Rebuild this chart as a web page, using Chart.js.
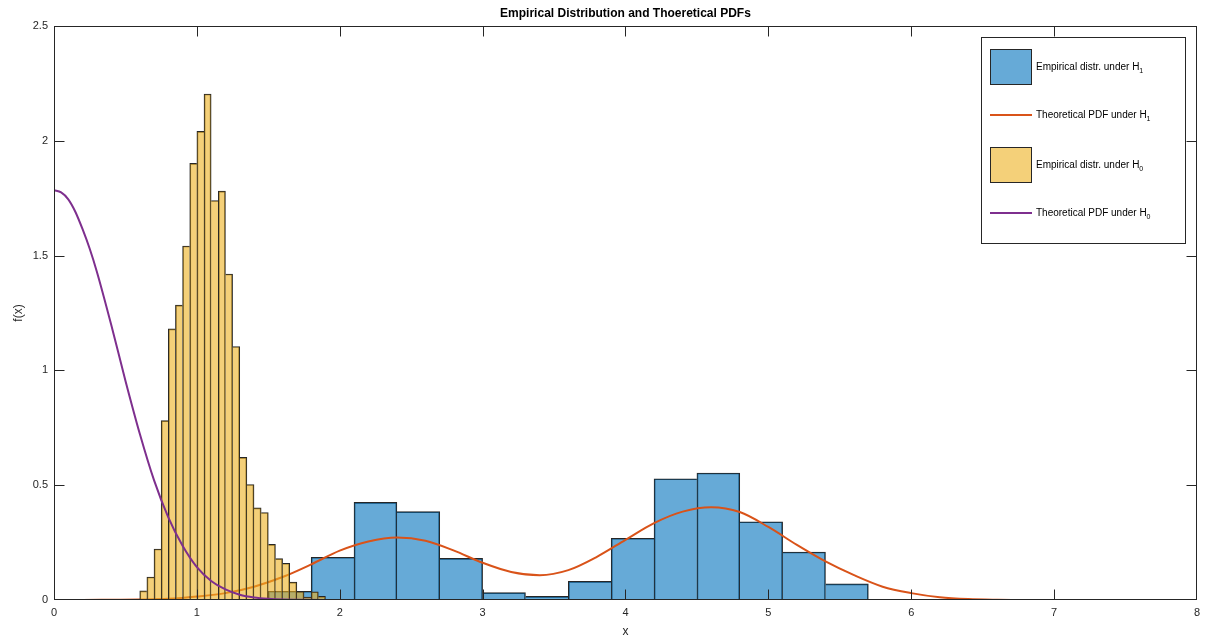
<!DOCTYPE html>
<html lang="en">
<head>
<meta charset="UTF-8">
<title>Empirical Distribution and Thoeretical PDFs</title>
<script src="https://cdn.jsdelivr.net/npm/chart.js"></script>
<style>
  html, body { margin: 0; padding: 0; background: #fff; }
  #wrap { width: 1206px; height: 642px; }
</style>
</head>
<body>
<div id="wrap"><canvas id="grafico" width="1206" height="642"></canvas></div>
<script>
// histogram under H1 (bin edges + density per bin)
const edgesH1 = [1.5, 1.8, 2.1, 2.4, 2.7, 3.0, 3.3, 3.6, 3.9, 4.2, 4.5, 4.8, 5.1, 5.4, 5.7];
const densH1  = [0.038, 0.186, 0.425, 0.385, 0.181, 0.032, 0.016, 0.081, 0.269, 0.528, 0.553, 0.341, 0.209, 0.070];

// histogram under H0
const edgesH0 = [0.6, 0.65, 0.7, 0.75, 0.8, 0.85, 0.9, 0.95, 1.0, 1.05, 1.1, 1.15, 1.2, 1.25,
                 1.3, 1.35, 1.4, 1.45, 1.5, 1.55, 1.6, 1.65, 1.7, 1.75, 1.8, 1.85, 1.9];
const densH0  = [0.04, 0.10, 0.222, 0.781, 1.181, 1.284, 1.542, 1.902, 2.041, 2.204, 1.740, 1.781, 1.420,
                 1.104, 0.621, 0.503, 0.401, 0.381, 0.242, 0.180, 0.160, 0.078, 0.037, 0.013, 0.036, 0.016];

// theoretical pdf under H1
const pdfH1x = [0, 0.2, 0.4, 0.6, 0.8, 1.0, 1.2, 1.4, 1.6, 1.8, 2.0, 2.2, 2.4, 2.6, 2.8, 3.0, 3.2, 3.4,
                3.6, 3.8, 4.0, 4.2, 4.4, 4.6, 4.8, 5.0, 5.2, 5.4, 5.6, 5.8, 6.0, 6.2, 6.4, 6.6, 6.76];
const pdfH1y = [0, 0, 0.001, 0.002, 0.005, 0.015, 0.03, 0.058, 0.10, 0.155, 0.215, 0.255, 0.272, 0.258,
                0.215, 0.162, 0.122, 0.108, 0.13, 0.188, 0.262, 0.335, 0.385, 0.404, 0.383, 0.318,
                0.24, 0.168, 0.108, 0.058, 0.03, 0.012, 0.004, 0.001, 0];

// theoretical pdf under H0
const pdfH0x = [0, 0.05, 0.1, 0.15, 0.2, 0.25, 0.3, 0.4, 0.5, 0.6, 0.7, 0.8, 0.9, 1.0, 1.1, 1.2, 1.3,
                1.4, 1.5, 1.6, 1.7, 1.9, 8];
const pdfH0y = [1.785, 1.775, 1.745, 1.69, 1.615, 1.53, 1.43, 1.2, 0.955, 0.725, 0.522, 0.36, 0.236,
                0.143, 0.083, 0.046, 0.023, 0.011, 0.005, 0.002, 0.001, 0, 0];

const xTicks = [0, 1, 2, 3, 4, 5, 6, 7, 8];
const yTicks = [0, 0.5, 1, 1.5, 2, 2.5];

const azul    = 'rgba(0, 114, 189, 0.6)';
const amarelo = 'rgba(237, 177, 32, 0.6)';
const laranja = 'rgb(217, 83, 25)';
const roxo    = 'rgb(126, 47, 142)';
const eixo    = '#262626';
const fonte   = '"Liberation Sans", Arial, Helvetica, sans-serif';

function histPoints(edges, vals) {
    return vals.map((v, i) => ({ x: (edges[i] + edges[i + 1]) / 2, y: v }));
}

// only the taller of two neighbouring bars draws the shared edge
function edgeWidths(vals) {
    return ctx => {
        const i = ctx.dataIndex, v = vals[i];
        const prev = i > 0 ? vals[i - 1] : -1;
        const next = i < vals.length - 1 ? vals[i + 1] : -1;
        return { top: 1, bottom: 0, left: prev <= v ? 1 : 0, right: next < v ? 1 : 0 };
    };
}

const curve = (xs, ys) => xs.map((x, i) => ({ x: x, y: ys[i] }));

const legendItems = [
    { kind: 'box',  color: azul,    text: 'Empirical distr. under H', sub: '1' },
    { kind: 'line', color: laranja, text: 'Theoretical PDF under H',  sub: '1' },
    { kind: 'box',  color: amarelo, text: 'Empirical distr. under H', sub: '0' },
    { kind: 'line', color: roxo,    text: 'Theoretical PDF under H',  sub: '0' }
];

const moldura = {
    id: 'moldura',
    afterDatasetsDraw(chart) {
        const { ctx, chartArea: a, scales } = chart;
        const L = Math.round(a.left) + 0.5, R = Math.round(a.right) - 0.5;
        const T = Math.round(a.top) + 0.5, B = Math.round(a.bottom) - 0.5;
        ctx.save();
        ctx.strokeStyle = eixo;
        ctx.lineWidth = 1;
        ctx.strokeRect(L, T, R - L, B - T);
        ctx.beginPath();
        xTicks.forEach(t => {
            const px = Math.min(Math.max(Math.round(scales.x.getPixelForValue(t)) + 0.5, L), R);
            ctx.moveTo(px, B); ctx.lineTo(px, B - 10);
            ctx.moveTo(px, T); ctx.lineTo(px, T + 10);
        });
        yTicks.forEach(t => {
            const py = Math.min(Math.max(Math.round(scales.y.getPixelForValue(t)) + 0.5, T), B);
            ctx.moveTo(L, py); ctx.lineTo(L + 10, py);
            ctx.moveTo(R, py); ctx.lineTo(R - 10, py);
        });
        ctx.stroke();

        // title and axis labels
        ctx.fillStyle = '#000';
        ctx.font = 'bold 12px ' + fonte;
        ctx.textAlign = 'center';
        ctx.textBaseline = 'middle';
        ctx.fillText('Empirical Distribution and Thoeretical PDFs', (a.left + a.right) / 2, 14);
        ctx.fillStyle = eixo;
        ctx.font = '12px ' + fonte;
        ctx.fillText('x', (a.left + a.right) / 2, 632);
        ctx.save();
        ctx.translate(19, (a.top + a.bottom) / 2);
        ctx.rotate(-Math.PI / 2);
        ctx.fillText('f(x)', 0, 0);
        ctx.restore();

        // legend
        const lx = 981.5, ly = 37.5, lw = 204, lh = 206;
        ctx.fillStyle = '#fff';
        ctx.fillRect(lx, ly, lw, lh);
        ctx.strokeStyle = eixo;
        ctx.strokeRect(lx, ly, lw, lh);
        const linhas = [67, 115, 165, 213];
        legendItems.forEach((it, i) => {
            const cy = linhas[i];
            if (it.kind === 'box') {
                ctx.fillStyle = it.color;
                ctx.fillRect(990, cy - 18, 42, 36);
                ctx.strokeStyle = eixo;
                ctx.strokeRect(990.5, cy - 17.5, 41, 35);
            } else {
                ctx.strokeStyle = it.color;
                ctx.lineWidth = 2;
                ctx.beginPath();
                ctx.moveTo(990, cy); ctx.lineTo(1032, cy);
                ctx.stroke();
                ctx.lineWidth = 1;
            }
            ctx.fillStyle = '#000';
            ctx.textAlign = 'left';
            ctx.textBaseline = 'middle';
            ctx.font = '10px ' + fonte;
            ctx.fillText(it.text, 1036, cy);
            const w = ctx.measureText(it.text).width;
            ctx.font = '7px ' + fonte;
            ctx.fillText(it.sub, 1036 + w, cy + 4);
        });
        ctx.restore();
    }
};

const hiddenX = { type: 'linear', display: false, min: 0, max: 8, offset: false };

new Chart(document.getElementById('grafico'), {
    type: 'bar',
    data: {
        datasets: [
            {
                type: 'bar', xAxisID: 'xH1', order: 4,
                data: histPoints(edgesH1, densH1),
                backgroundColor: azul, borderColor: eixo,
                borderWidth: edgeWidths(densH1), borderSkipped: false,
                barPercentage: 1, categoryPercentage: 1, grouped: false
            },
            {
                type: 'line', xAxisID: 'x', order: 3,
                data: curve(pdfH1x, pdfH1y),
                borderColor: laranja, borderWidth: 2, pointRadius: 0,
                cubicInterpolationMode: 'monotone', fill: false
            },
            {
                type: 'bar', xAxisID: 'xH0', order: 2,
                data: histPoints(edgesH0, densH0),
                backgroundColor: amarelo, borderColor: eixo,
                borderWidth: edgeWidths(densH0), borderSkipped: false,
                barPercentage: 1, categoryPercentage: 1, grouped: false
            },
            {
                type: 'line', xAxisID: 'x', order: 1,
                data: curve(pdfH0x, pdfH0y),
                borderColor: roxo, borderWidth: 2, pointRadius: 0,
                cubicInterpolationMode: 'monotone', fill: false
            }
        ]
    },
    options: {
        responsive: false,
        devicePixelRatio: 1,
        animation: false,
        layout: { padding: { top: 26, right: 9, left: 0, bottom: 0 } },
        plugins: { legend: { display: false }, tooltip: { enabled: false }, title: { display: false } },
        scales: {
            x: {
                type: 'linear', position: 'bottom', min: 0, max: 8, offset: false,
                grid: { display: false, drawTicks: false }, border: { display: false },
                afterBuildTicks: s => { s.ticks = xTicks.map(v => ({ value: v })); },
                afterFit: s => { s.height = 42; },
                ticks: { color: eixo, padding: 6, font: { family: fonte, size: 11 },
                         callback: v => String(v) }
            },
            xH1: Object.assign({}, hiddenX),
            xH0: Object.assign({}, hiddenX),
            y: {
                type: 'linear', min: 0, max: 2.5,
                grid: { display: false, drawTicks: false }, border: { display: false },
                afterBuildTicks: s => { s.ticks = yTicks.map(v => ({ value: v })); },
                afterFit: s => { s.width = 54; },
                ticks: { color: eixo, padding: 6, font: { family: fonte, size: 11 },
                         callback: v => String(v) }
            }
        }
    },
    plugins: [moldura]
});
</script>
</body>
</html>
